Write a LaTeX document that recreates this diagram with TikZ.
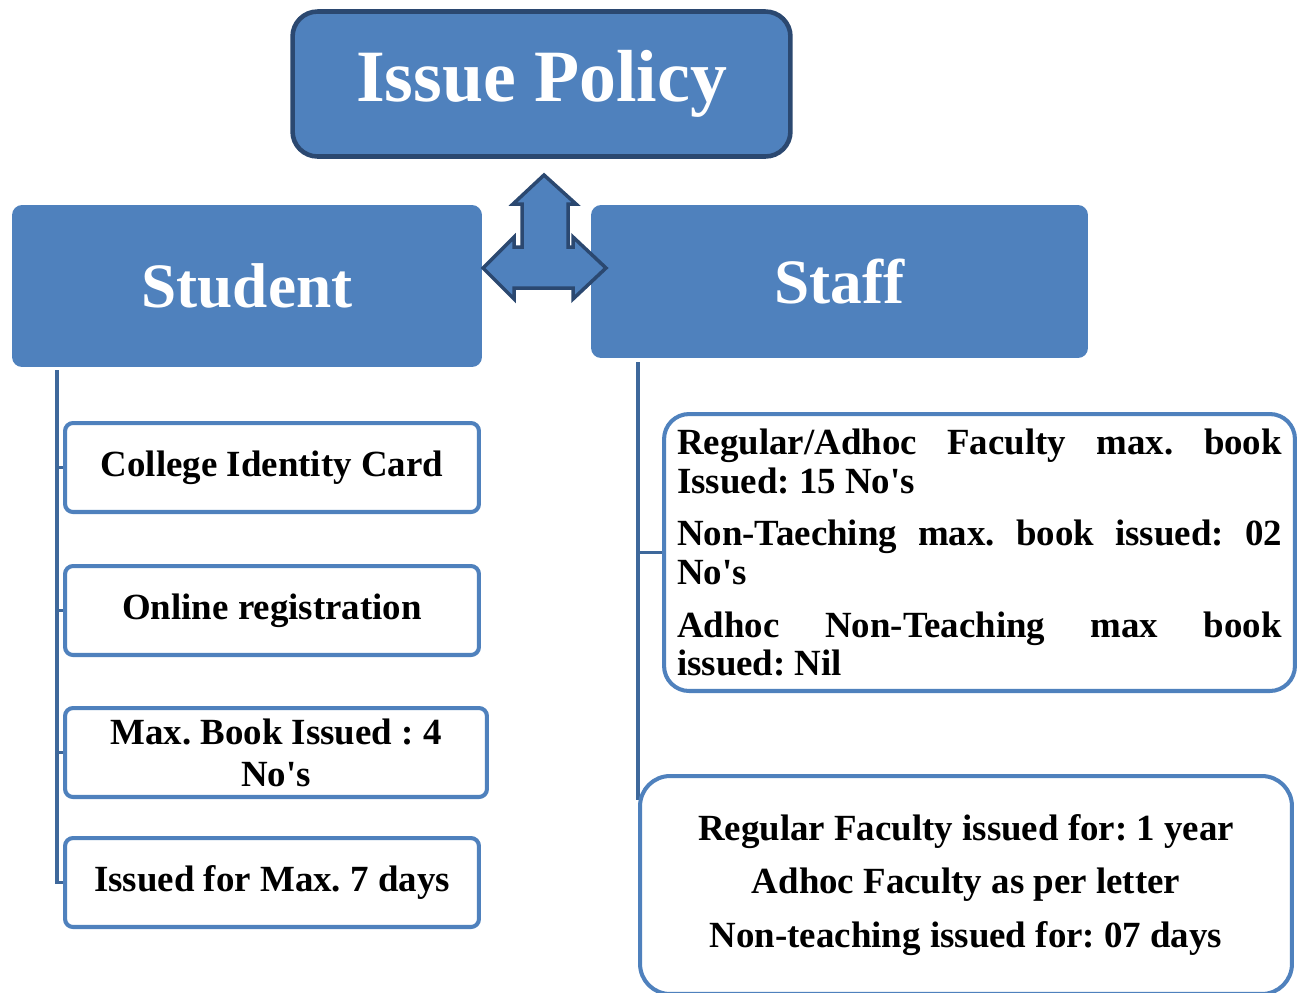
\documentclass[tikz,border=0pt]{standalone}
\usepackage{fontspec}
\setmainfont{Liberation Serif}[Ligatures=TeXOff]
\usetikzlibrary{backgrounds}
\definecolor{accent}{HTML}{4F81BD}
\definecolor{darkb}{HTML}{2B4870}
\definecolor{connc}{HTML}{3E689B}
\frenchspacing
\tikzset{
  headbox/.style={fill=accent, text=white, font=\fontsize{36}{40}\selectfont\bfseries, rounded corners=0.2cm, inner sep=0pt},
  leafbox/.style={draw=accent, line width=2.3pt, rounded corners=0.16cm, fill=white, font=\fontsize{21}{24}\selectfont\bfseries, align=center, inner sep=0pt},
  bigbox/.style={draw=accent, line width=2.3pt, fill=white, font=\fontsize{21}{22}\selectfont\bfseries},
  connline/.style={draw=connc, line width=2.2pt},
}
\begin{document}
\begin{tikzpicture}[x=0.02cm, y=-0.02cm]
\useasboundingbox (0,0) rectangle (1307,992);
\clip (0,0) rectangle (1307,992);

% title
\node[draw=darkb, line width=2.6pt, fill=accent, rounded corners=0.5cm, minimum width=9.96cm, minimum height=2.9cm, text=white, font=\fontsize{42}{46}\selectfont\bfseries, inner sep=0pt] (policy) at (541.5,84) {Issue Policy};

% heads
\node[headbox, minimum width=9.4cm, minimum height=3.24cm] (student) at (247,286) {Student};
\node[headbox, minimum width=9.94cm, minimum height=3.06cm] (staff) at (839.5,281.5) {Staff};

% three-way arrow
\draw[darkb, line width=2pt, fill=accent, line join=miter]
  (544,175) -- (576,204) -- (568,204) -- (568,247) -- (573,247) -- (573,237)
  -- (606,268) -- (573,299) -- (573,288) -- (514,288) -- (514,299) -- (483,268)
  -- (514,237) -- (514,247) -- (522,247) -- (522,204) -- (513,204) -- cycle;

% student leaves
\node[leafbox, minimum width=8.28cm, minimum height=1.78cm] (c1) at (272,467.5) {College Identity Card};
\node[leafbox, minimum width=8.28cm, minimum height=1.78cm] (c2) at (272,610.5) {Online registration};
\node[leafbox, minimum width=8.44cm, minimum height=1.78cm] (c3) at (276,752.5) {Max. Book Issued : 4\\No's};
\node[leafbox, minimum width=8.28cm, minimum height=1.78cm] (c4) at (272,882.5) {Issued for Max. 7 days};

% staff boxes
\node[bigbox, rounded corners=0.5cm, minimum height=5.54cm, text width=12.1cm, inner xsep=0.26cm, inner ysep=0pt, align=justify] (r1) at (979.5,552.5)
  {\setlength{\parskip}{8pt}\setlength{\parindent}{0pt}Regular/Adhoc Faculty max. book\linebreak Issued: 15 No's\par
   Non-Taeching max. book issued: 02\linebreak No's\par
   Adhoc Non-Teaching max book\linebreak issued: Nil};
\node[bigbox, rounded corners=0.6cm, minimum width=13.04cm, minimum height=4.36cm, align=center, inner sep=0pt, font=\fontsize{21}{30.6}\selectfont\bfseries] (r2) at (966,885)
  {Regular Faculty issued for: 1 year\\Adhoc Faculty as per letter\\Non-teaching issued for: 07 days};

% connectors
\begin{scope}[on background layer]
  \coordinate (lt) at (57,370);
  \coordinate (lb) at (57,884);
  \draw[connline] (lt) -- (lb);
  \foreach \n in {c1,c2,c3,c4} \draw[connline] (\n.west -| lt) -- (\n.west);
  \coordinate (rt) at (638,362);
  \coordinate (rb) at (638,800);
  \draw[connline] (rt) -- (rb);
  \draw[connline] (r1.west -| rt) -- (r1.west);
\end{scope}
\end{tikzpicture}
\end{document}
